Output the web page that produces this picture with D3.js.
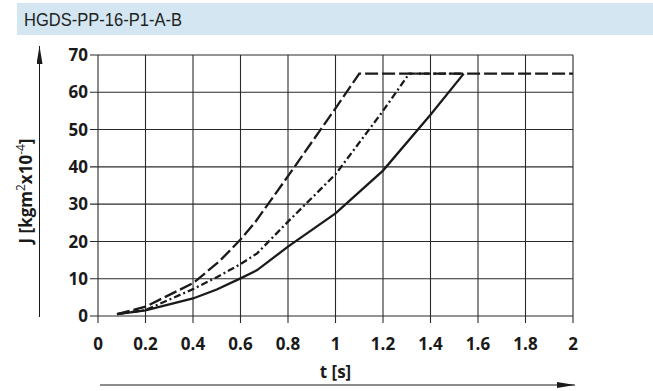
<!DOCTYPE html>
<html>
<head>
<meta charset="utf-8">
<script src="https://cdn.jsdelivr.net/npm/d3@7"></script>
<style>
  body { margin: 0; background: #fff; }
  svg { display: block; }
</style>
</head>
<body>
<div id="chart"></div>
<script>
const title = "HGDS-PP-16-P1-A-B";
const xTicks = [0, 0.2, 0.4, 0.6, 0.8, 1, 1.2, 1.4, 1.6, 1.8, 2];
const yTicks = [0, 10, 20, 30, 40, 50, 60, 70];

// long dash curve (fastest)
const dashT = [0.08, 0.2, 0.4, 0.51, 0.6, 0.66, 0.8, 1.0, 1.1, 2.0];
const dashJ = [0.5, 2.5, 8.8, 14.6, 20.5, 25, 37.5, 55.7, 65, 65];
// dash-dot curve
const dotT = [0.08, 0.2, 0.4, 0.5, 0.6, 0.67, 0.8, 1.0, 1.2, 1.31, 1.54];
const dotJ = [0.5, 1.6, 7.2, 10.4, 13.9, 16.8, 25.3, 38, 55, 65, 65];
// solid curve (slowest)
const solidT = [0.08, 0.2, 0.4, 0.5, 0.6, 0.67, 0.8, 1.0, 1.2, 1.4, 1.54];
const solidJ = [0.5, 1.5, 4.7, 7.1, 10.1, 12.3, 18.6, 27.5, 39, 54, 65];

const width = 653, height = 391;
const plot = { left: 98, right: 573, top: 55, bottom: 316 };

const svg = d3.select("#chart").append("svg")
  .attr("width", width)
  .attr("height", height);

// title bar
svg.append("rect")
  .attr("x", 17).attr("y", 3)
  .attr("width", width - 17).attr("height", 32)
  .attr("fill", "#d3e6f1");
svg.append("text")
  .attr("x", 24).attr("y", 26)
  .attr("font-family", "'Liberation Sans Narrow', 'Liberation Sans', sans-serif")
  .attr("font-size", 19)
  .attr("fill", "#222")
  .attr("textLength", 158)
  .attr("lengthAdjust", "spacingAndGlyphs")
  .text(title);

const x = d3.scaleLinear().domain([0, 2]).range([plot.left, plot.right]);
const y = d3.scaleLinear().domain([0, 70]).range([plot.bottom, plot.top]);

const tickFont = "'Open Sans', 'DejaVu Sans', sans-serif";

// grid
const grid = svg.append("g").attr("stroke", "#2a2a2a").attr("stroke-width", 1.1);
yTicks.forEach(v => {
  grid.append("line")
    .attr("x1", plot.left - 8).attr("x2", plot.right)
    .attr("y1", y(v)).attr("y2", y(v));
});
xTicks.forEach(v => {
  grid.append("line")
    .attr("x1", x(v)).attr("x2", x(v))
    .attr("y1", plot.top).attr("y2", plot.bottom + 7);
});

// tick labels
svg.append("g").selectAll("text")
  .data(yTicks).join("text")
  .attr("x", plot.left - 10)
  .attr("y", d => y(d))
  .attr("dy", "0.36em")
  .attr("text-anchor", "end")
  .attr("font-family", tickFont)
  .attr("font-weight", 700)
  .attr("font-size", 17)
  .attr("fill", "#1a1a1a")
  .text(d => d);

svg.append("g").selectAll("text")
  .data(xTicks).join("text")
  .attr("x", d => x(d))
  .attr("y", 350)
  .attr("text-anchor", "middle")
  .attr("font-family", tickFont)
  .attr("font-weight", 700)
  .attr("font-size", 17)
  .attr("fill", "#1a1a1a")
  .text(d => d);

// axis titles
svg.append("text")
  .attr("x", x(1)).attr("y", 378)
  .attr("text-anchor", "middle")
  .attr("font-family", tickFont)
  .attr("font-weight", 700)
  .attr("font-size", 17)
  .attr("fill", "#1a1a1a")
  .text("t [s]");

const yLab = svg.append("text")
  .attr("transform", "translate(32,191) rotate(-90)")
  .attr("text-anchor", "middle")
  .attr("font-family", tickFont)
  .attr("font-weight", 700)
  .attr("font-size", 17)
  .attr("fill", "#1a1a1a");
yLab.append("tspan").text("J [kgm");
yLab.append("tspan").attr("dy", -7).attr("font-size", 12).attr("font-weight", 400).text("2");
yLab.append("tspan").attr("dy", 7).text("x10");
yLab.append("tspan").attr("dy", -7).attr("font-size", 12).attr("font-weight", 400).text("-4");
yLab.append("tspan").attr("dy", 7).text("]");

// arrows
const defs = svg.append("defs");
defs.append("marker")
  .attr("id", "arrow")
  .attr("viewBox", "0 0 18 6")
  .attr("refX", 18).attr("refY", 3)
  .attr("markerWidth", 18).attr("markerHeight", 6)
  .attr("markerUnits", "userSpaceOnUse")
  .attr("orient", "auto")
  .append("path")
  .attr("d", "M0,0 L18,3 L0,6 Z")
  .attr("fill", "#1a1a1a");

svg.append("line")
  .attr("x1", 100).attr("x2", 575)
  .attr("y1", 385).attr("y2", 385)
  .attr("stroke", "#1a1a1a").attr("stroke-width", 1)
  .attr("marker-end", "url(#arrow)");

svg.append("line")
  .attr("x1", 39.5).attr("x2", 39.5)
  .attr("y1", 317).attr("y2", 46)
  .attr("stroke", "#1a1a1a").attr("stroke-width", 1)
  .attr("marker-end", "url(#arrow)");

// curves
const line = d3.line().x(d => x(d[0])).y(d => y(d[1]));
const curves = [
  { t: solidT, j: solidJ, dash: null },
  { t: dotT, j: dotJ, dash: "7,3,2,3" },
  { t: dashT, j: dashJ, dash: "13,4" }
];
curves.forEach(c => {
  svg.append("path")
    .datum(c.t.map((t, i) => [t, c.j[i]]))
    .attr("d", line)
    .attr("fill", "none")
    .attr("stroke", "#1a1a1a")
    .attr("stroke-width", 2.3)
    .attr("stroke-dasharray", c.dash);
});
</script>
</body>
</html>
